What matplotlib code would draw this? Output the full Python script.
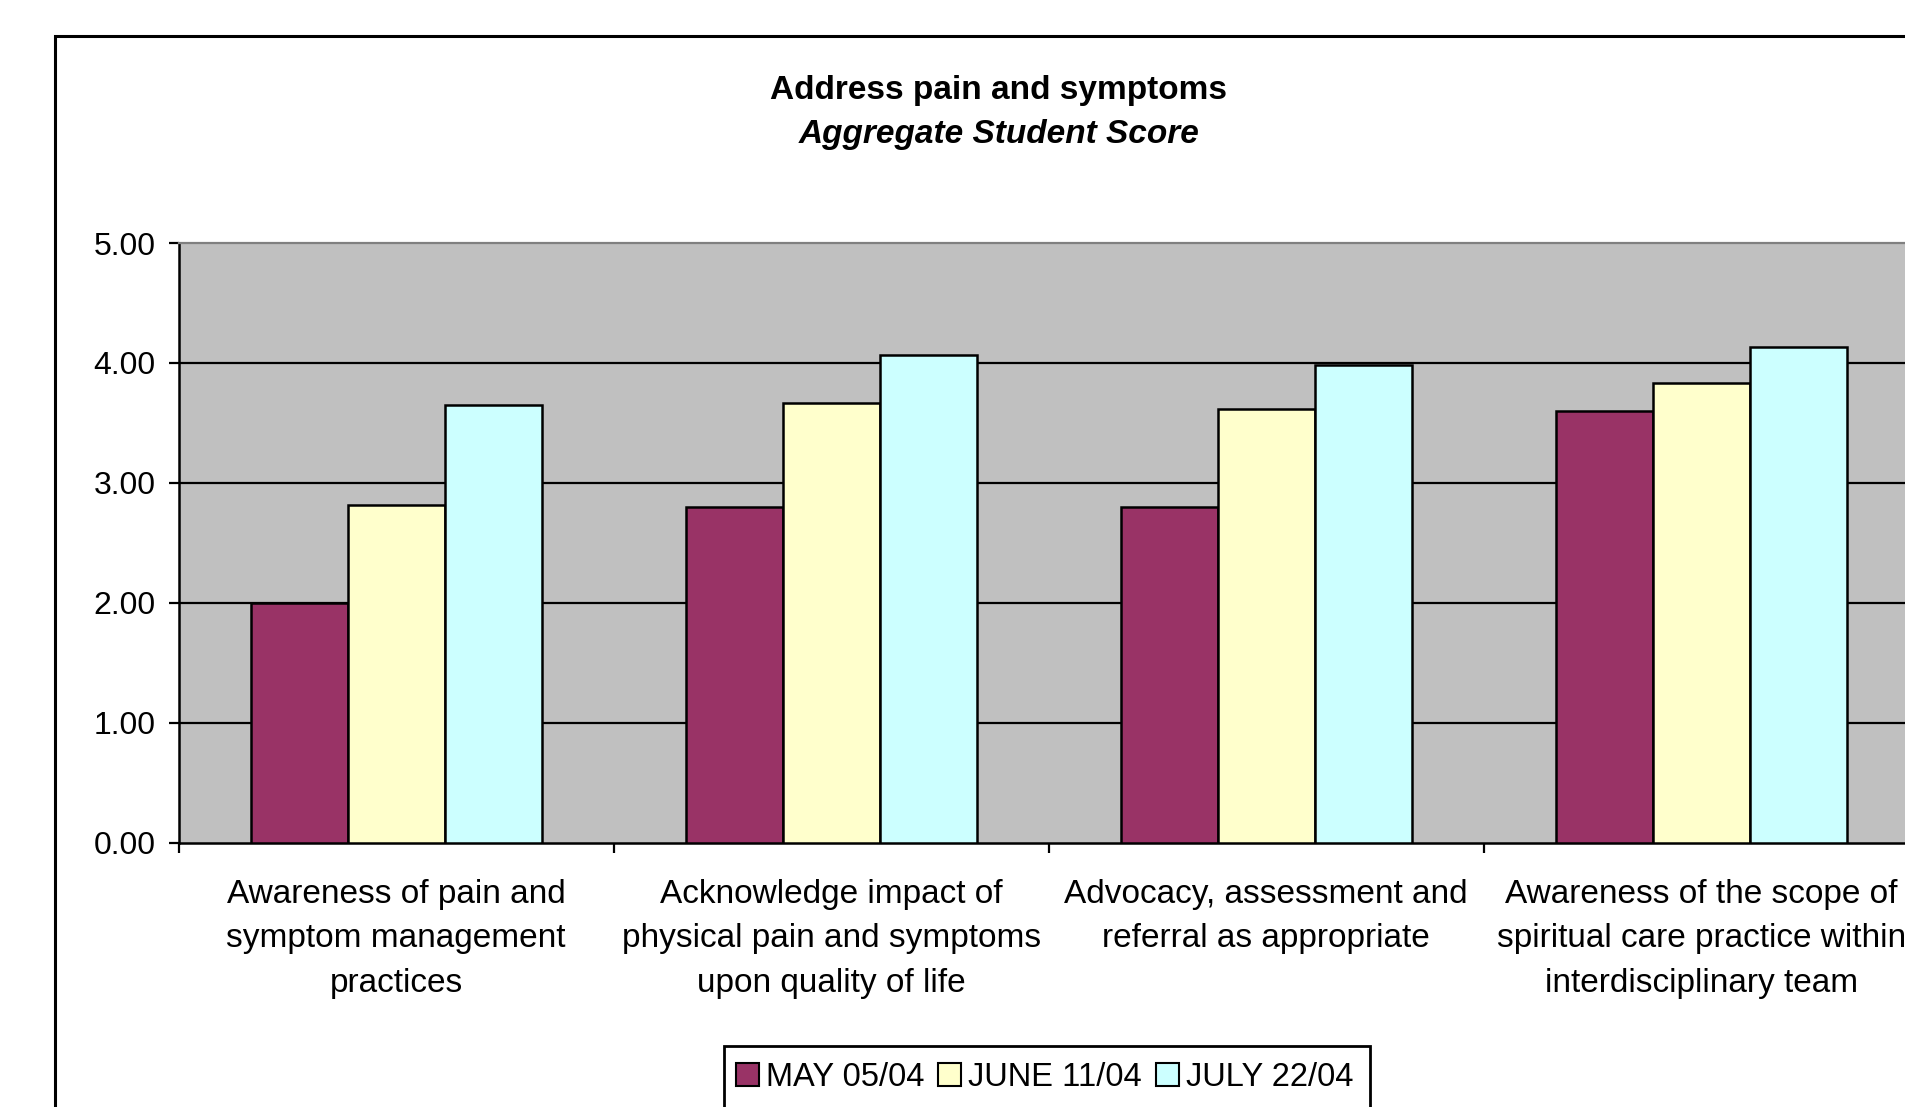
import matplotlib
matplotlib.use('Agg')
import matplotlib.pyplot as plt
from matplotlib.patches import Rectangle, Patch
import numpy as np

categories = ["Awareness of pain and\nsymptom management\npractices",
              "Acknowledge impact of\nphysical pain and symptoms\nupon quality of life",
              "Advocacy, assessment and\nreferral as appropriate",
              "Awareness of the scope of\nspiritual care practice within\ninterdisciplinary team"]
series_names = ["MAY 05/04", "JUNE 11/04", "JULY 22/04"]
may = [2.00, 2.80, 2.80, 3.60]
june = [2.82, 3.67, 3.62, 3.83]
july = [3.65, 4.07, 3.98, 4.13]
yticks = [0, 1, 2, 3, 4, 5]
ytick_labels = ["0.00", "1.00", "2.00", "3.00", "4.00", "5.00"]
colors = ['#993366', '#FFFFCC', '#CCFFFF']

plt.rcParams['font.family'] = ['Liberation Sans', 'DejaVu Sans']
W, H = 1905, 1107
fig = plt.figure(figsize=(W / 100, H / 100), dpi=100)
fig.patch.set_facecolor('white')

ax = fig.add_axes([178.6 / W, 264 / H, 1740 / W, 600 / H])
ax.set_facecolor('#C0C0C0')

x = np.arange(len(categories))
w = 0.223
for j, (vals, name, c) in enumerate(zip([may, june, july], series_names, colors)):
    ax.bar(x + (j - 1) * w, vals, width=w, color=c, edgecolor='black',
           linewidth=1.8, zorder=3, label=name)

ax.set_xlim(-0.5, len(categories) - 0.5)
ax.set_ylim(0, 5)
ax.set_yticks(yticks)
ax.set_yticklabels(ytick_labels, fontsize=23)
for yv in yticks[1:-1]:
    ax.axhline(yv, color='black', lw=1.6, zorder=1)

ax.set_xticks(np.arange(len(categories) + 1) - 0.5)
ax.set_xticklabels([])
ax.set_xticks(x, minor=True)
ax.set_xticklabels(categories, minor=True, fontsize=24)
ax.tick_params(axis='x', which='minor', length=0, pad=26)
ax.tick_params(axis='x', which='major', length=7, width=1.6, direction='out')
ax.tick_params(axis='y', length=7, width=1.6, direction='out', pad=9.4)
for lab in ax.get_xticklabels(minor=True):
    lab.set_linespacing(1.55)

ax.spines['left'].set_linewidth(1.8)
ax.spines['bottom'].set_linewidth(1.8)
ax.spines['top'].set_color('#808080')
ax.spines['top'].set_linewidth(1.6)
ax.spines['right'].set_visible(False)

fig.text(999 / W, 1 - 90 / H, "Address pain and symptoms", ha='center', va='center',
         fontsize=24, fontweight='bold')
fig.text(999 / W, 1 - 135 / H, "Aggregate Student Score", ha='center', va='center',
         fontsize=24, fontweight='bold', style='italic')

frame = Rectangle((55 / W, -0.05), 1.2, 1 - 36 / H + 0.05, transform=fig.transFigure,
                  fill=False, edgecolor='black', linewidth=2.2, clip_on=False)
fig.add_artist(frame)

# legend box (extends beyond the bottom edge, as in the reference)
legbox = Rectangle((724 / W, -0.05), 646 / W, 1 - 1046 / H + 0.05,
                   transform=fig.transFigure, facecolor='white', edgecolor='black',
                   linewidth=2.0, clip_on=False, zorder=5)
fig.add_artist(legbox)

handles = [Patch(facecolor=c, edgecolor='black', linewidth=1.5) for c in colors]
leg = fig.legend(handles, series_names, loc='center left',
                 bbox_to_anchor=(736 / W, 1 - 1077 / H), ncol=3, frameon=False,
                 fontsize=23.5, handlelength=0.7, handleheight=0.7,
                 handletextpad=0.22, columnspacing=0.42, borderpad=0,
                 borderaxespad=0)
leg.set_zorder(6)

fig.savefig('out.png', dpi=100)
